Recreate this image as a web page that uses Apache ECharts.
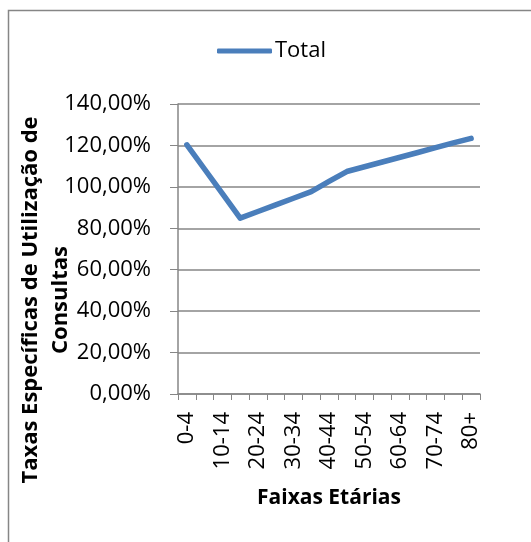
<!DOCTYPE html>
<html>
<head>
<meta charset="utf-8">
<script src="https://cdn.jsdelivr.net/npm/echarts@6/dist/echarts.min.js"></script>
<style>
  html, body { margin: 0; padding: 0; background: #fff; }
  #main { width: 531px; height: 542px; }
</style>
</head>
<body>
<div id="main"></div>
<script>
// faixas etárias (17 categorias, rótulo sim rótulo não)
var categorias = ['0-4', '5-9', '10-14', '15-19', '20-24', '25-29', '30-34', '35-39', '40-44',
  '45-49', '50-54', '55-59', '60-64', '65-69', '70-74', '75-79', '80+'];
// taxa total (%)
var total = [120.3, 108.5, 96.7, 84.9, 88.1, 91.3, 94.5, 97.7, 102.6,
  107.4, 109.7, 112.0, 114.3, 116.6, 118.9, 121.2, 123.4];
var nomeSerie = 'Total';
var tituloY = 'Taxas Específicas de Utilização de\nConsultas';
var tituloX = 'Faixas Etárias';

var fonte = '"Open Sans", sans-serif';
var cinza = '#868686';

var myChart = echarts.init(document.getElementById('main'));
var option = {
    animation: false,
    textStyle: { fontFamily: fonte, color: '#000' },
    graphic: [
        {
            type: 'rect',
            shape: { x: 8.5, y: 10.5, width: 700, height: 700 },
            style: { fill: 'none', stroke: cinza, lineWidth: 1.5 },
            z: -10
        },
        {
            type: 'text',
            x: 46, y: 300,
            rotation: Math.PI / 2,
            style: {
                text: tituloY,
                font: 'bold 22px ' + fonte,
                fill: '#000',
                align: 'center',
                verticalAlign: 'middle',
                lineHeight: 30
            }
        }
    ],
    legend: {
        data: [nomeSerie],
        left: 212,
        top: 35,
        icon: 'roundRect',
        itemWidth: 55,
        itemHeight: 5,
        itemGap: 10,
        textStyle: { fontSize: 22, fontFamily: fonte, color: '#000', padding: [0, 0, 0, -2] }
    },
    grid: { left: 178, right: 51, top: 104, bottom: 148, containLabel: false },
    xAxis: {
        type: 'category',
        data: categorias,
        boundaryGap: true,
        name: tituloX,
        nameLocation: 'middle',
        nameGap: 94,
        nameTextStyle: { fontSize: 21, fontWeight: 'bold', fontFamily: fonte, color: '#000' },
        axisLine: { lineStyle: { color: cinza, width: 1.5 } },
        axisTick: { show: true, interval: 0, length: 6, lineStyle: { color: cinza } },
        axisLabel: {
            interval: 1,
            rotate: 90,
            margin: 18,
            fontSize: 22,
            fontFamily: fonte,
            color: '#000'
        },
        splitLine: { show: false }
    },
    yAxis: {
        type: 'value',
        min: 0,
        max: 140,
        interval: 20,
        axisLine: { show: true, lineStyle: { color: cinza, width: 1.5 } },
        axisTick: { show: true, length: 8, lineStyle: { color: cinza } },
        axisLabel: {
            margin: 27,
            fontSize: 22,
            fontFamily: fonte,
            color: '#000',
            formatter: function (v) { return v.toFixed(2).replace('.', ',') + '%'; }
        },
        splitLine: { show: true, lineStyle: { color: cinza, width: 1.5 } }
    },
    series: [
        {
            name: nomeSerie,
            type: 'line',
            data: total,
            symbol: 'none',
            lineStyle: { color: '#4a7ebb', width: 5.5, cap: 'round', join: 'round' },
            itemStyle: { color: '#4a7ebb' }
        }
    ]
};
myChart.setOption(option);
</script>
</body>
</html>
